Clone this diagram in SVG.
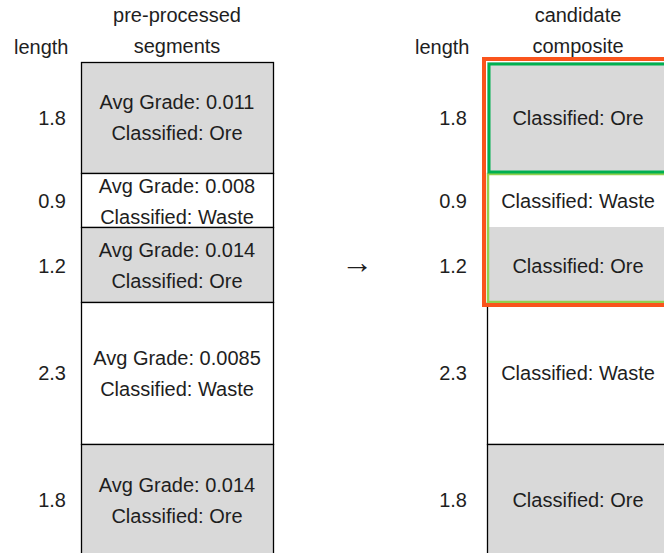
<svg xmlns="http://www.w3.org/2000/svg" width="664" height="553" viewBox="0 0 664 553">
<style>
text{font-family:"Liberation Sans",Arial,sans-serif;font-size:20px;fill:#1e1e1e}
.c{text-anchor:middle}
.r{text-anchor:end}
.ore{fill:#d9d9d9;stroke:#000;stroke-width:1.3}
.waste{fill:#fff;stroke:#000;stroke-width:1.3}
.rc{fill:#d9d9d9;stroke:none}
.rw{fill:#fff;stroke:none}
.arr{font-family:"Liberation Sans",sans-serif;font-size:32px}
</style>
<rect width="664" height="553" fill="#fff"/>
<g id="headers">
<text x="14" y="54">length</text>
<text class="c" x="177" y="22">pre-processed</text>
<text class="c" x="177" y="53">segments</text>
<text x="415" y="54">length</text>
<text class="c" x="578" y="22">candidate</text>
<text class="c" x="578" y="53">composite</text>
</g>
<g id="lengths-left">
<text class="r" x="66" y="125">1.8</text>
<text class="r" x="66" y="208">0.9</text>
<text class="r" x="66" y="273">1.2</text>
<text class="r" x="66" y="380">2.3</text>
<text class="r" x="66" y="507">1.8</text>
</g>
<g id="lengths-right">
<text class="r" x="467" y="125">1.8</text>
<text class="r" x="467" y="208">0.9</text>
<text class="r" x="467" y="273">1.2</text>
<text class="r" x="467" y="380">2.3</text>
<text class="r" x="467" y="507">1.8</text>
</g>
<g id="seg1"><rect class="ore" x="81.5" y="62.5" width="192" height="111"/>
<text class="c" x="177" y="109">Avg Grade: 0.011</text><text class="c" x="177" y="140">Classified: Ore</text></g>
<g id="seg2"><rect class="waste" x="81.5" y="173.5" width="192" height="54"/>
<text class="c" x="177" y="193">Avg Grade: 0.008</text><text class="c" x="177" y="224">Classified: Waste</text></g>
<g id="seg3"><rect class="ore" x="81.5" y="227.5" width="192" height="75"/>
<text class="c" x="177" y="257">Avg Grade: 0.014</text><text class="c" x="177" y="288">Classified: Ore</text></g>
<g id="seg4"><rect class="waste" x="81.5" y="302.5" width="192" height="142"/>
<text class="c" x="177" y="365">Avg Grade: 0.0085</text><text class="c" x="177" y="396">Classified: Waste</text></g>
<g id="seg5"><rect class="ore" x="81.5" y="444.5" width="192" height="120"/>
<text class="c" x="177" y="492">Avg Grade: 0.014</text><text class="c" x="177" y="523">Classified: Ore</text></g>
<g id="arrow"><text class="c arr" x="357" y="273">→</text></g>
<g id="comp1"><rect class="rc" x="487" y="62" width="190" height="111"/>
<text class="c" x="578" y="125">Classified: Ore</text></g>
<g id="comp2"><rect class="rw" x="487" y="173" width="190" height="54"/>
<text class="c" x="578" y="208">Classified: Waste</text></g>
<g id="comp3"><rect class="rc" x="487" y="227" width="190" height="75"/>
<text class="c" x="578" y="273">Classified: Ore</text></g>
<g id="comp4"><rect class="waste" x="487.5" y="302.5" width="190" height="142"/>
<text class="c" x="578" y="380">Classified: Waste</text></g>
<g id="comp5"><rect class="ore" x="487.5" y="444.5" width="190" height="120"/>
<text class="c" x="578" y="507">Classified: Ore</text></g>
<g id="highlights" fill="none">
<rect x="488" y="174" width="190" height="128" stroke="#92d050" stroke-width="2.5"/>
<rect x="489" y="64" width="190" height="108" stroke="#00b050" stroke-width="3"/>
<rect x="484" y="59" width="200" height="246" stroke="#fa541c" stroke-width="4"/>
</g>
</svg>
